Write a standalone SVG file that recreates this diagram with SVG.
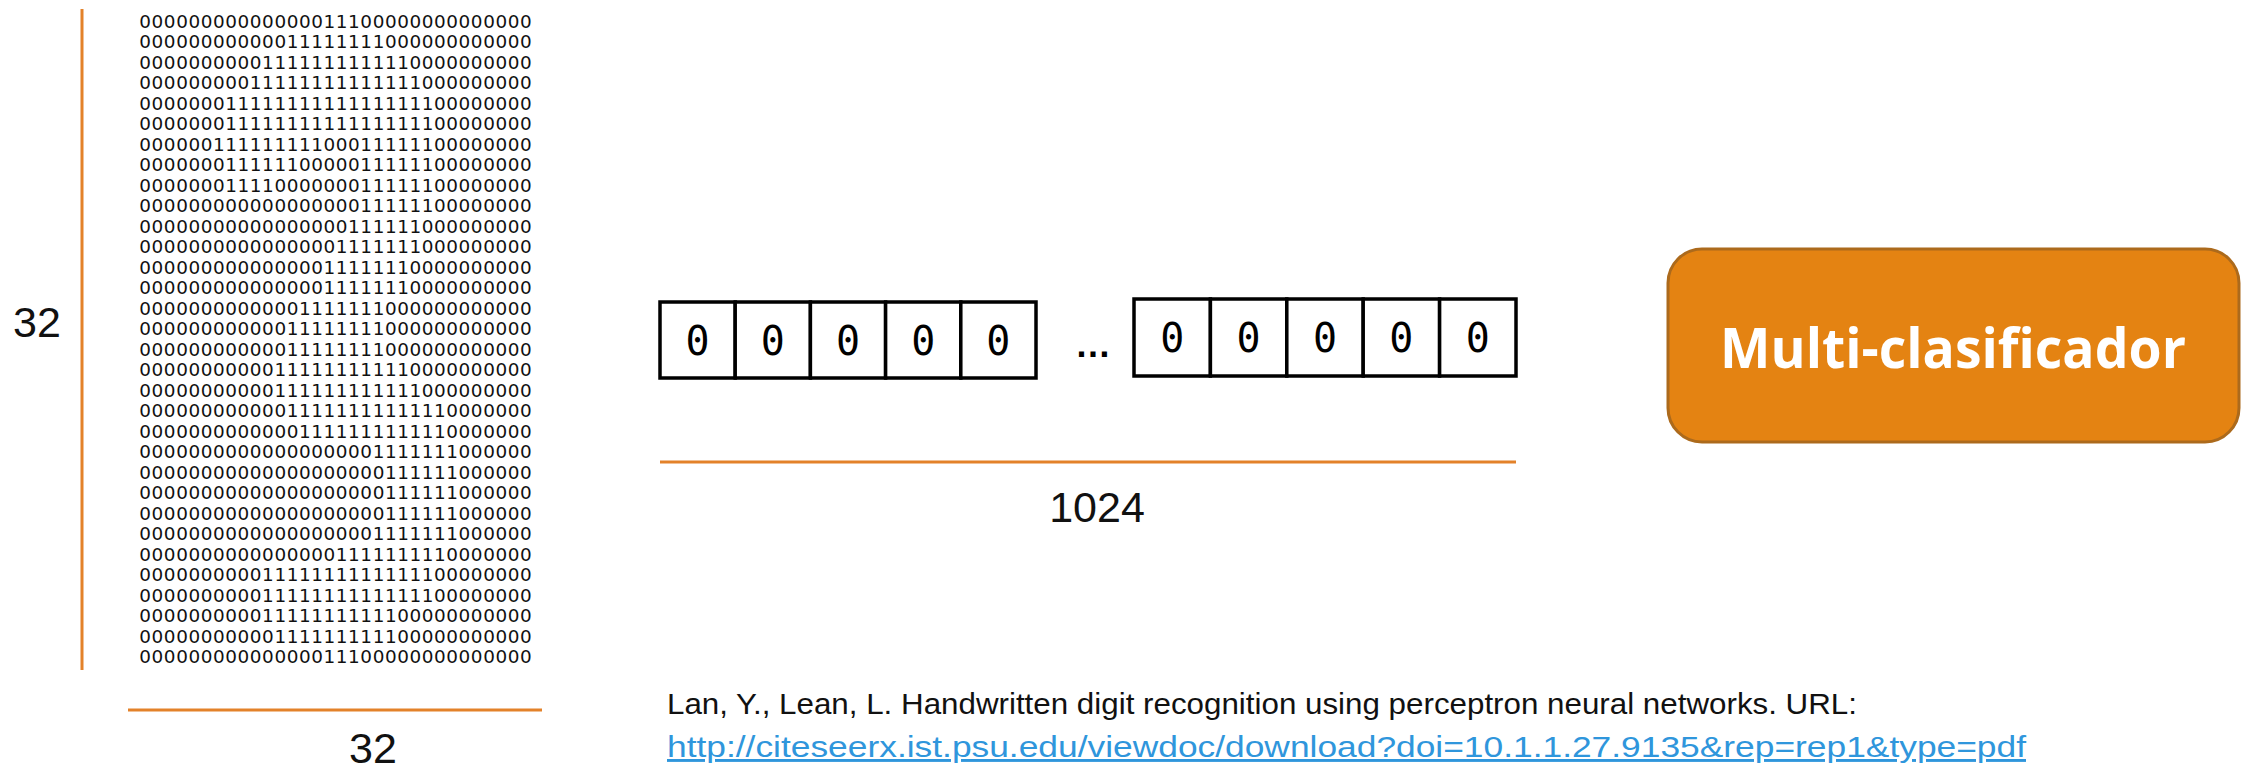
<svg xmlns="http://www.w3.org/2000/svg" width="2249" height="769" viewBox="0 0 2249 769">
  <style>
    .bits { font-family: "DejaVu Sans", sans-serif; font-size: 18.4px; fill: #111; }
    .dim { stroke: #E3822A; stroke-width: 3; fill: none; }
    .lbl { font-family: "Liberation Sans", Arial, sans-serif; font-size: 43px; fill: #111; }
    .cell { fill: #fff; stroke: #000; stroke-width: 3.5; }
    .zero { font-family: "DejaVu Sans Mono", monospace; font-size: 40px; fill: #000; text-anchor: middle; }
    .cite { font-family: "Liberation Sans", Arial, sans-serif; font-size: 29px; fill: #111; }
    .link { font-family: "Liberation Sans", Arial, sans-serif; font-size: 29px; fill: #2F96DC; }
  </style>
  <rect width="2249" height="769" fill="#fff"/>

  <!-- 32x32 binary bitmap of a handwritten digit -->
  <g id="bitmap" class="bits">
    <text x="139.3" y="27.7" textLength="392.4" lengthAdjust="spacing">00000000000000011100000000000000</text>
    <text x="139.3" y="48.2" textLength="392.4" lengthAdjust="spacing">00000000000011111111000000000000</text>
    <text x="139.3" y="68.7" textLength="392.4" lengthAdjust="spacing">00000000001111111111110000000000</text>
    <text x="139.3" y="89.2" textLength="392.4" lengthAdjust="spacing">00000000011111111111111000000000</text>
    <text x="139.3" y="109.7" textLength="392.4" lengthAdjust="spacing">00000001111111111111111100000000</text>
    <text x="139.3" y="130.2" textLength="392.4" lengthAdjust="spacing">00000001111111111111111100000000</text>
    <text x="139.3" y="150.7" textLength="392.4" lengthAdjust="spacing">00000011111111100011111100000000</text>
    <text x="139.3" y="171.2" textLength="392.4" lengthAdjust="spacing">00000001111110000011111100000000</text>
    <text x="139.3" y="191.7" textLength="392.4" lengthAdjust="spacing">00000001111000000011111100000000</text>
    <text x="139.3" y="212.2" textLength="392.4" lengthAdjust="spacing">00000000000000000011111100000000</text>
    <text x="139.3" y="232.7" textLength="392.4" lengthAdjust="spacing">00000000000000000111111000000000</text>
    <text x="139.3" y="253.2" textLength="392.4" lengthAdjust="spacing">00000000000000001111111000000000</text>
    <text x="139.3" y="273.7" textLength="392.4" lengthAdjust="spacing">00000000000000011111110000000000</text>
    <text x="139.3" y="294.2" textLength="392.4" lengthAdjust="spacing">00000000000000011111110000000000</text>
    <text x="139.3" y="314.7" textLength="392.4" lengthAdjust="spacing">00000000000001111111000000000000</text>
    <text x="139.3" y="335.2" textLength="392.4" lengthAdjust="spacing">00000000000011111111000000000000</text>
    <text x="139.3" y="355.7" textLength="392.4" lengthAdjust="spacing">00000000000011111111000000000000</text>
    <text x="139.3" y="376.2" textLength="392.4" lengthAdjust="spacing">00000000000111111111110000000000</text>
    <text x="139.3" y="396.7" textLength="392.4" lengthAdjust="spacing">00000000000111111111111000000000</text>
    <text x="139.3" y="417.2" textLength="392.4" lengthAdjust="spacing">00000000000011111111111110000000</text>
    <text x="139.3" y="437.7" textLength="392.4" lengthAdjust="spacing">00000000000001111111111110000000</text>
    <text x="139.3" y="458.2" textLength="392.4" lengthAdjust="spacing">00000000000000000001111111000000</text>
    <text x="139.3" y="478.7" textLength="392.4" lengthAdjust="spacing">00000000000000000000111111000000</text>
    <text x="139.3" y="499.2" textLength="392.4" lengthAdjust="spacing">00000000000000000000111111000000</text>
    <text x="139.3" y="519.7" textLength="392.4" lengthAdjust="spacing">00000000000000000000111111000000</text>
    <text x="139.3" y="540.2" textLength="392.4" lengthAdjust="spacing">00000000000000000001111111000000</text>
    <text x="139.3" y="560.7" textLength="392.4" lengthAdjust="spacing">00000000000000001111111110000000</text>
    <text x="139.3" y="581.2" textLength="392.4" lengthAdjust="spacing">00000000001111111111111100000000</text>
    <text x="139.3" y="601.7" textLength="392.4" lengthAdjust="spacing">00000000001111111111111100000000</text>
    <text x="139.3" y="622.2" textLength="392.4" lengthAdjust="spacing">00000000001111111111100000000000</text>
    <text x="139.3" y="642.7" textLength="392.4" lengthAdjust="spacing">00000000000111111111100000000000</text>
    <text x="139.3" y="663.2" textLength="392.4" lengthAdjust="spacing">00000000000000011100000000000000</text>
  </g>

  <!-- dimension lines and their labels -->
  <g id="dimensions">
    <line class="dim" x1="82" y1="9" x2="82" y2="670"/>
    <line class="dim" x1="128" y1="710" x2="542" y2="710"/>
    <line class="dim" x1="660" y1="462" x2="1516" y2="462"/>
    <text class="lbl" x="13" y="337">32</text>
    <text class="lbl" x="373" y="763" text-anchor="middle">32</text>
    <text class="lbl" x="1097" y="522" text-anchor="middle">1024</text>
  </g>

  <!-- flattened 1024-element input vector -->
  <g id="vector">
    <rect class="cell" x="660" y="302" width="75.2" height="76"/>
    <rect class="cell" x="735.2" y="302" width="75.2" height="76"/>
    <rect class="cell" x="810.4" y="302" width="75.2" height="76"/>
    <rect class="cell" x="885.6" y="302" width="75.2" height="76"/>
    <rect class="cell" x="960.8" y="302" width="75.2" height="76"/>
    <text class="zero" x="697.6" y="355">0</text>
    <text class="zero" x="772.8" y="355">0</text>
    <text class="zero" x="848" y="355">0</text>
    <text class="zero" x="923.2" y="355">0</text>
    <text class="zero" x="998.4" y="355">0</text>
    <text x="1093" y="357" text-anchor="middle" font-family="Liberation Sans, Arial, sans-serif" font-weight="bold" font-size="36" fill="#000">…</text>
    <rect class="cell" x="1134" y="299" width="76.4" height="77"/>
    <rect class="cell" x="1210.4" y="299" width="76.4" height="77"/>
    <rect class="cell" x="1286.8" y="299" width="76.4" height="77"/>
    <rect class="cell" x="1363.2" y="299" width="76.4" height="77"/>
    <rect class="cell" x="1439.6" y="299" width="76.4" height="77"/>
    <text class="zero" x="1172.2" y="352">0</text>
    <text class="zero" x="1248.6" y="352">0</text>
    <text class="zero" x="1325" y="352">0</text>
    <text class="zero" x="1401.4" y="352">0</text>
    <text class="zero" x="1477.8" y="352">0</text>
  </g>

  <!-- classifier block -->
  <g id="classifier">
    <rect x="1668" y="249" width="571" height="193" rx="34" fill="#E48312" stroke="#AC6A1C" stroke-width="3"/>
    <text x="1953" y="368" text-anchor="middle" font-family="Open Sans, Liberation Sans, sans-serif" font-weight="bold" font-size="55" fill="#fff" textLength="466" lengthAdjust="spacingAndGlyphs">Multi-clasificador</text>
  </g>

  <!-- source reference -->
  <g id="citation">
    <text class="cite" x="667" y="714" textLength="1190" lengthAdjust="spacingAndGlyphs">Lan, Y., Lean, L. Handwritten digit recognition using perceptron neural networks. URL:</text>
    <text class="link" x="667" y="757" textLength="1359" lengthAdjust="spacingAndGlyphs" text-decoration="underline">http://citeseerx.ist.psu.edu/viewdoc/download?doi=10.1.1.27.9135&amp;rep=rep1&amp;type=pdf</text>
  </g>
</svg>
